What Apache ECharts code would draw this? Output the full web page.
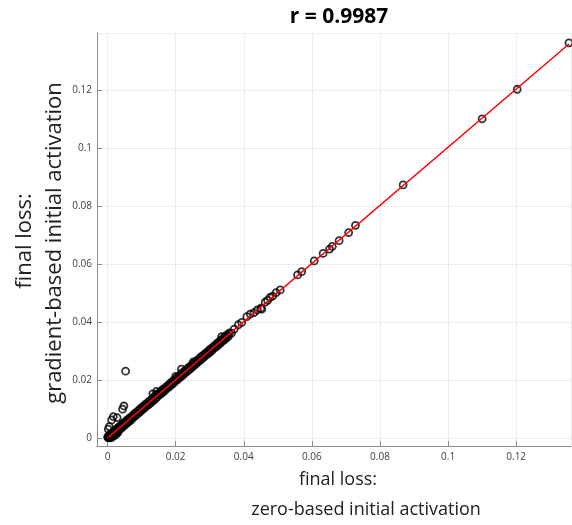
<!DOCTYPE html>
<html>
<head>
<meta charset="utf-8">
<script src="https://cdn.jsdelivr.net/npm/echarts@6/dist/echarts.min.js"></script>
<style>
  html, body { margin: 0; padding: 0; background: #fff; }
  #chart { width: 572px; height: 525px; }
</style>
</head>
<body>
<div id="chart"></div>
<script>
// dense band along the diagonal (estimated)
var bandX = [0.0000, 0.0002, 0.0003, 0.0005, 0.0006, 0.0008, 0.0009, 0.0011, 0.0012, 0.0014,
  0.0016, 0.0017, 0.0019, 0.0021, 0.0023, 0.0025, 0.0027, 0.0029, 0.0031, 0.0033,
  0.0035, 0.0037, 0.0039, 0.0041, 0.0043, 0.0045, 0.0047, 0.0050, 0.0052, 0.0055,
  0.0057, 0.0060, 0.0062, 0.0065, 0.0067, 0.0070, 0.0073, 0.0075, 0.0078, 0.0081,
  0.0083, 0.0086, 0.0089, 0.0092, 0.0094, 0.0097, 0.0100, 0.0103, 0.0106, 0.0109,
  0.0112, 0.0115, 0.0118, 0.0121, 0.0124, 0.0127, 0.0130, 0.0133, 0.0136, 0.0139,
  0.0142, 0.0145, 0.0148, 0.0151, 0.0154, 0.0157, 0.0160, 0.0163, 0.0166, 0.0169,
  0.0172, 0.0175, 0.0178, 0.0181, 0.0184, 0.0187, 0.0190, 0.0193, 0.0196, 0.0199,
  0.0202, 0.0205, 0.0208, 0.0211, 0.0214, 0.0217, 0.0220, 0.0223, 0.0226, 0.0229,
  0.0232, 0.0235, 0.0238, 0.0241, 0.0244, 0.0247, 0.0250, 0.0253, 0.0256, 0.0259,
  0.0262, 0.0265, 0.0268, 0.0271, 0.0274, 0.0277, 0.0280, 0.0283, 0.0286, 0.0289,
  0.0292, 0.0295, 0.0298, 0.0301, 0.0304, 0.0307, 0.0310, 0.0313, 0.0316, 0.0319,
  0.0322, 0.0325, 0.0328, 0.0331, 0.0334, 0.0337, 0.0340, 0.0343, 0.0346, 0.0349,
  0.0352, 0.0355, 0.0358];
var bandY = [0.0003, 0.0000, 0.0006, 0.0001, 0.0010, 0.0004, 0.0013, 0.0006, 0.0016, 0.0009,
  0.0020, 0.0011, 0.0023, 0.0014, 0.0027, 0.0018, 0.0031, 0.0022, 0.0035, 0.0026,
  0.0039, 0.0031, 0.0043, 0.0034, 0.0047, 0.0039, 0.0051, 0.0043, 0.0056, 0.0049,
  0.0061, 0.0053, 0.0066, 0.0058, 0.0070, 0.0063, 0.0077, 0.0070, 0.0082, 0.0075,
  0.0087, 0.0080, 0.0092, 0.0086, 0.0098, 0.0091, 0.0104, 0.0098, 0.0110, 0.0103,
  0.0116, 0.0110, 0.0122, 0.0115, 0.0128, 0.0121, 0.0133, 0.0127, 0.0141, 0.0133,
  0.0147, 0.0140, 0.0152, 0.0147, 0.0158, 0.0152, 0.0165, 0.0158, 0.0170, 0.0164,
  0.0176, 0.0171, 0.0182, 0.0176, 0.0189, 0.0182, 0.0194, 0.0188, 0.0200, 0.0195,
  0.0206, 0.0200, 0.0212, 0.0207, 0.0218, 0.0212, 0.0225, 0.0218, 0.0230, 0.0225,
  0.0236, 0.0230, 0.0243, 0.0236, 0.0248, 0.0242, 0.0255, 0.0248, 0.0260, 0.0254,
  0.0266, 0.0261, 0.0272, 0.0266, 0.0279, 0.0272, 0.0284, 0.0278, 0.0290, 0.0285,
  0.0296, 0.0290, 0.0303, 0.0296, 0.0308, 0.0302, 0.0314, 0.0309, 0.0320, 0.0314,
  0.0327, 0.0320, 0.0332, 0.0326, 0.0338, 0.0333, 0.0344, 0.0338, 0.0351, 0.0344,
  0.0356, 0.0350, 0.0362];

// points near the origin below the diagonal, and lumps on the band
var lumpX = [0.0010, 0.0015, 0.0020, 0.0025, 0.0030, 0.0133, 0.0144, 0.0200, 0.0217, 0.0252,
  0.0335, 0.0364];
var lumpY = [0.0000, 0.0004, 0.0008, 0.0012, 0.0018, 0.0152, 0.0160, 0.0212, 0.0237, 0.0262,
  0.0349, 0.0361];

// isolated points above the band near the origin
var outlierX = [0.0053, 0.0048, 0.0044, 0.0017, 0.0028, 0.0012, 0.0005, 0.0002];
var outlierY = [0.0230, 0.0110, 0.0099, 0.0073, 0.0070, 0.0062, 0.0039, 0.0030];

// sparser points further up
var upperX = [0.0372, 0.0384, 0.0394, 0.0409, 0.0419, 0.0430, 0.0440, 0.0450, 0.0453, 0.0463,
  0.0470, 0.0477, 0.0485, 0.0495, 0.0507, 0.0558, 0.0570, 0.0607, 0.0633, 0.0652,
  0.0660, 0.0680, 0.0708, 0.0728, 0.0868, 0.1100, 0.1203, 0.1355];
var upperY = [0.0375, 0.0390, 0.0398, 0.0418, 0.0427, 0.0432, 0.0441, 0.0447, 0.0444, 0.0468,
  0.0474, 0.0484, 0.0489, 0.0501, 0.0510, 0.0562, 0.0573, 0.0610, 0.0636, 0.0651,
  0.0660, 0.0680, 0.0708, 0.0733, 0.0872, 0.1100, 0.1202, 0.1362];

// fitted line
var fitX = [0, 0.1355];
var fitY = [0, 0.1358];

function zip(xs, ys) {
  var out = [];
  for (var i = 0; i < xs.length; i++) {
    out.push([xs[i], ys[i]]);
  }
  return out;
}

var points = [].concat(zip(bandX, bandY), zip(lumpX, lumpY), zip(outlierX, outlierY), zip(upperX, upperY));

var font = '"Open Sans", Lato, sans-serif';
var axisCommon = {
  type: 'value',
  splitNumber: 7,
  axisLine: { show: true, onZero: false, lineStyle: { color: '#8c8c8c', width: 1 } },
  axisTick: { show: true, inside: true, length: 5, lineStyle: { color: '#8c8c8c' } },
  splitLine: { show: true, lineStyle: { color: '#ececec', width: 1 } },
  axisLabel: { color: '#404040', fontSize: 10, fontFamily: font, showMinLabel: false, showMaxLabel: false }
};

var option = {
  animation: false,
  backgroundColor: '#fff',
  title: {
    text: 'r = 0.9987',
    left: 334,
    top: 2,
    textAlign: 'center',
    textStyle: { fontSize: 21, fontWeight: 'bold', color: '#000', fontFamily: font }
  },
  grid: { left: 97, top: 33, right: 1, bottom: 79 },
  xAxis: Object.assign({}, axisCommon, {
    min: -0.0031, max: 0.1361,
    axisLabel: Object.assign({}, axisCommon.axisLabel, { margin: 6 })
  }),
  yAxis: Object.assign({}, axisCommon, {
    min: -0.0028, max: 0.1396,
    axisLabel: Object.assign({}, axisCommon.axisLabel, { margin: 5 })
  }),
  graphic: [
    { type: 'text', x: 338, y: 480, style: { text: 'final loss:', font: '18px ' + font, fill: '#222', align: 'center', verticalAlign: 'middle' } },
    { type: 'text', x: 366, y: 510, style: { text: 'zero-based initial activation', font: '18px ' + font, fill: '#222', align: 'center', verticalAlign: 'middle' } },
    { type: 'text', x: 25, y: 241, rotation: Math.PI / 2, style: { text: 'final loss:', font: '22px ' + font, fill: '#222', align: 'center', verticalAlign: 'middle' } },
    { type: 'text', x: 55, y: 243, rotation: Math.PI / 2, style: { text: 'gradient-based initial activation', font: '22px ' + font, fill: '#222', align: 'center', verticalAlign: 'middle' } }
  ],
  series: [
    {
      type: 'scatter',
      data: points,
      symbol: 'circle',
      symbolSize: 7,
      itemStyle: { color: 'rgba(255,255,255,0)', borderColor: '#000', borderWidth: 1.8 },
      z: 2
    },
    {
      type: 'line',
      data: zip(fitX, fitY),
      showSymbol: false,
      lineStyle: { color: '#ff0000', width: 1.5 },
      z: 3
    }
  ]
};

var chart = echarts.init(document.getElementById('chart'));
chart.setOption(option);
</script>
</body>
</html>
